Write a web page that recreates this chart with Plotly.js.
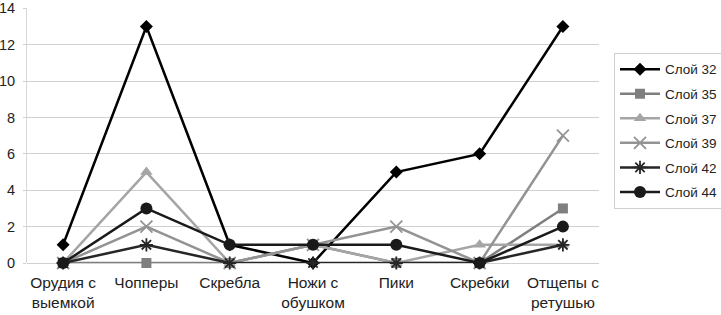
<!DOCTYPE html>
<html><head><meta charset="utf-8">
<script src="https://cdn.plot.ly/plotly-3.0.1.min.js"></script>
<style>html,body{margin:0;padding:0;background:#fff}#c{width:721px;height:315px}</style>
</head><body><div id="c"></div>
<script>
const categories = ["Орудия с<br>выемкой","Чопперы","Скребла","Ножи с<br>обушком","Пики","Скребки","Отщепы с<br>ретушью"];
const seriesNames = ["Слой 32","Слой 35","Слой 37","Слой 39","Слой 42","Слой 44"];
const sloi32 = [1, 13, 1, 0, 5, 6, 13];
const sloi35 = [0, 0, 0, 1, 0, 0, 3];
const sloi37 = [0, 5, 0, 1, 0, 1, 1];
const sloi39 = [0, 2, 0, 1, 2, 0, 7];
const sloi42 = [0, 1, 0, 0, 0, 0, 1];
const sloi44 = [0, 3, 1, 1, 1, 0, 2];
const yTicks = [0,2,4,6,8,10,12,14];

const values = [sloi32, sloi35, sloi37, sloi39, sloi42, sloi44];
const colors = ["#000000","#7f7f7f","#a5a5a5","#939393","#262626","#1a1a1a"];
const symbols = ["diamond","square","triangle-up","x-thin-open","asterisk-open","circle"];
const sizes = [10,10,11,12,11,12];
const traces = values.map((v,i)=>({
  x: categories, y: v, name: seriesNames[i], type:'scatter', mode:'lines+markers',
  legendgroup: 'g'+i, cliponaxis:false,
  line:{color:colors[i], width:2.5},
  marker:{symbol:symbols[i], size:sizes[i], color:colors[i], line:{color:colors[i], width:(i===3||i===4)?1.8:0}}
}));
const layout = {
  width:721, height:315,
  margin:{l:27, r:122, t:8, b:52},
  paper_bgcolor:'#fff', plot_bgcolor:'#fff',
  font:{family:'Liberation Sans, Arial, sans-serif', size:13, color:'#222'},
  xaxis:{type:'category', showgrid:false, zeroline:false, showline:false, ticks:'', tickfont:{size:15.5}, ticklabelstandoff:8},
  yaxis:{range:[0,14.02], tickvals:yTicks, showgrid:true, gridcolor:'#d0d0d0', gridwidth:1, zeroline:true, zerolinecolor:'#d0d0d0', showline:true, linecolor:'#d8d8d8', ticks:'outside', ticklen:3, tickcolor:'#d0d0d0', tickfont:{size:14.5}, ticklabelstandoff:5, ticklabeloverflow:'allow'},
  showlegend:true,
  legend:{xref:'container', yref:'container', x:0.8516, xanchor:'left', y:0.832, yanchor:'top', bordercolor:'#d0d0d0', borderwidth:1, font:{size:13.5}, traceorder:'grouped', tracegroupgap:4, itemwidth:40}
};
Plotly.newPlot('c', traces, layout, {displayModeBar:false, staticPlot:true});
</script></body></html>
